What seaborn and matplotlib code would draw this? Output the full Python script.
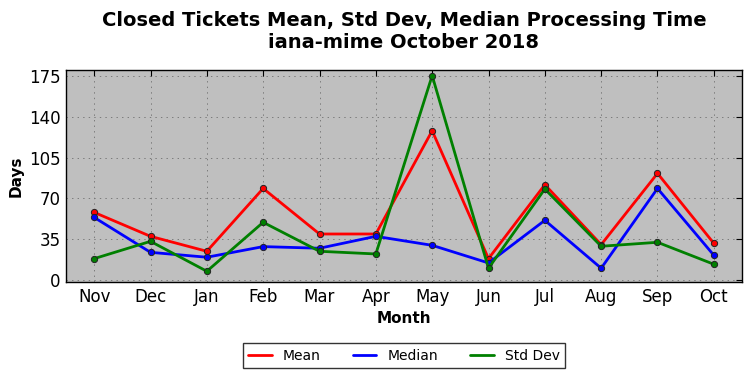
import matplotlib
matplotlib.use("Agg")
import matplotlib.pyplot as plt
import seaborn as sns
import pandas as pd

months = ["Nov", "Dec", "Jan", "Feb", "Mar", "Apr", "May", "Jun", "Jul", "Aug", "Sep", "Oct"]
mean_vals = [58.1, 37.6, 24.8, 78.6, 39.6, 39.6, 128.0, 18.5, 81.8, 30.5, 91.5, 31.6]
median_vals = [53.8, 23.9, 19.7, 28.8, 27.4, 37.6, 29.9, 14.8, 51.3, 10.3, 78.6, 21.4]
std_vals = [18.5, 33.3, 7.7, 49.6, 24.8, 22.5, 175.2, 10.3, 78.1, 29.1, 32.5, 13.7]
series_names = ["Mean", "Median", "Std Dev"]
colors = ["red", "blue", "green"]
yticks = [0, 35, 70, 105, 140, 175]

rows = []
for name, vals in zip(series_names, [mean_vals, median_vals, std_vals]):
    for i, v in enumerate(vals):
        rows.append({"x": i, "Month": months[i], "Days": v, "Series": name})
df = pd.DataFrame(rows)

sns.set_style("white")
plt.rcParams["font.family"] = ["DejaVu Sans"]
plt.rcParams["lines.scale_dashes"] = False
for k in ["text.color", "axes.labelcolor", "xtick.color", "ytick.color"]:
    plt.rcParams[k] = "black"

fig = plt.figure(figsize=(7.52, 3.78), dpi=100)
ax = fig.add_axes([66/752, 1 - 282/378, (742-66)/752, (282-70)/378])
ax.set_facecolor("#bfbfbf")

sns.lineplot(data=df, x="x", y="Days", hue="Series", hue_order=series_names,
             palette=colors, marker="o", markersize=4.5, markeredgecolor="#222222",
             markeredgewidth=0.7, linewidth=2, sort=False, ax=ax, legend=True)

ax.set_xlim(-0.5, 11.5)
ax.set_ylim(-1.5, 180)
ax.set_xticks(range(len(months)))
ax.set_xticklabels(months, fontsize=12)
ax.set_yticks(yticks)
ax.set_yticklabels([str(t) for t in yticks], fontsize=12)
ax.grid(True, linestyle=(0, (1, 3)), color="#7a7a7a", linewidth=0.7)
ax.tick_params(direction="in", length=4, width=0.8, top=True, right=True, pad=4, colors="black")
for s in ax.spines.values():
    s.set_color("black")
    s.set_linewidth(1.0)
ax.set_xlabel("Month", fontsize=11, fontweight="bold")
ax.set_ylabel("Days", fontsize=11, fontweight="bold")

ax.set_title("Closed Tickets Mean, Std Dev, Median Processing Time\niana-mime October 2018",
             fontsize=14, fontweight="bold", pad=16, color="black")

handles, labels = ax.get_legend_handles_labels()
for h in handles:
    h.set_marker("")
ax.legend(handles, labels, loc="upper center", bbox_to_anchor=(0.5, -0.255), ncol=3,
          fontsize=10, frameon=True, fancybox=False, edgecolor="black",
          columnspacing=2.3, handlelength=1.7)
ax.get_legend().get_frame().set_linewidth(1.0)

fig.savefig("out.png", dpi=100)
